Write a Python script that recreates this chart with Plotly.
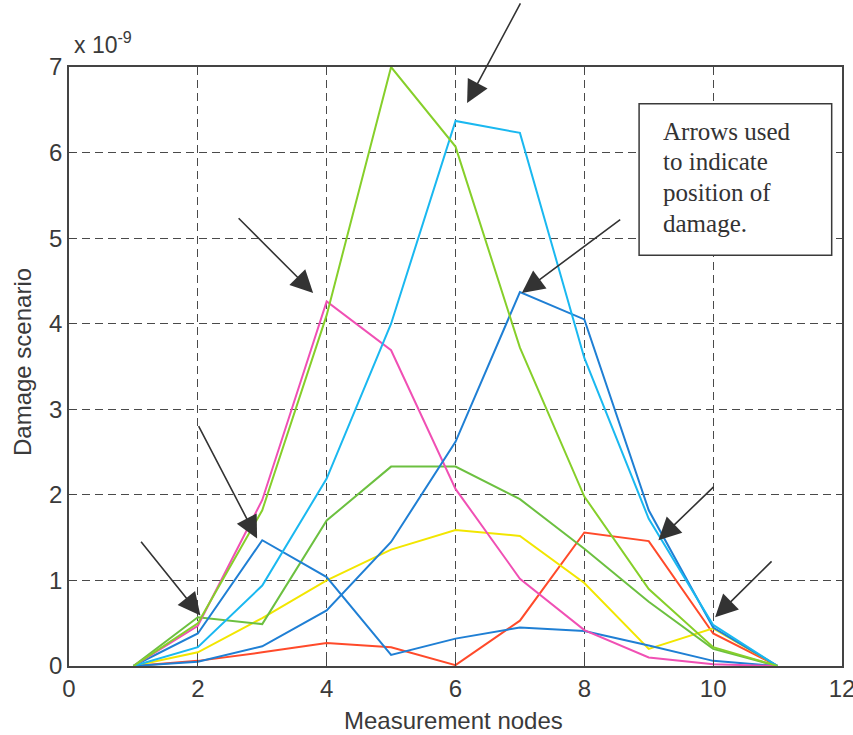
import plotly.graph_objects as go

# Measurement nodes along the structure
nodes = [1, 2, 3, 4, 5, 6, 7, 8, 9, 10, 11]

# Damage-scenario curves (units of 1e-9)
green_a = [0, 0.50, 1.82, 4.10, 7.00, 6.07, 3.72, 1.98, 0.90, 0.22, 0]
cyan = [0, 0.22, 0.94, 2.19, 4.00, 6.37, 6.23, 3.60, 1.72, 0.48, 0]
blue_a = [0, 0.05, 0.23, 0.65, 1.45, 2.62, 4.37, 4.05, 1.82, 0.45, 0]
magenta = [0, 0.47, 1.94, 4.26, 3.69, 2.07, 1.02, 0.42, 0.10, 0.02, 0]
blue_b = [0, 0.38, 1.47, 1.04, 0.13, 0.32, 0.45, 0.41, 0.24, 0.06, 0]
green_b = [0, 0.57, 0.49, 1.70, 2.33, 2.33, 1.95, 1.37, 0.75, 0.20, 0]
yellow = [0, 0.16, 0.56, 1.00, 1.36, 1.59, 1.52, 0.97, 0.20, 0.44, 0]
red = [0, 0.06, 0.16, 0.27, 0.22, 0.01, 0.53, 1.56, 1.46, 0.38, 0]

series = [
    (red, "#ff4a2a"),
    (yellow, "#f2e600"),
    (green_b, "#6cc040"),
    (blue_b, "#1f7fd4"),
    (magenta, "#f050b4"),
    (blue_a, "#1f7fd4"),
    (cyan, "#1ab8f0"),
    (green_a, "#86cf2a"),
]

# Arrows marking damage positions: (head x, head y, tail x, tail y)
arrow_heads_x = [6.18, 3.79, 2.92, 2.04, 7.03, 9.15, 10.03]
arrow_heads_y = [6.58, 4.36, 1.49, 0.59, 4.36, 1.47, 0.57]
arrow_tails_x = [7.02, 2.61, 2.00, 1.10, 8.58, 10.03, 10.93]
arrow_tails_y = [7.76, 5.25, 2.82, 1.47, 5.23, 2.11, 1.24]

note_lines = ["Arrows used", "to indicate", "position of", "damage."]

sans = "Liberation Sans, Arial, sans-serif"
ink = "#3a3a3a"

fig = go.Figure()
for ys, col in series:
    fig.add_trace(go.Scatter(x=nodes, y=ys, mode="lines",
                             line=dict(color=col, width=2), showlegend=False))

for hx, hy, tx, ty in zip(arrow_heads_x, arrow_heads_y, arrow_tails_x, arrow_tails_y):
    fig.add_annotation(x=hx, y=hy, ax=tx, ay=ty, xref="x", yref="y",
                       axref="x", ayref="y", text="", showarrow=True,
                       arrowhead=2, arrowsize=2.8, arrowwidth=1.6,
                       arrowcolor="#333333", standoff=0)

# Explanatory note box
fig.add_shape(type="rect", xref="x", yref="y", x0=8.85, x1=11.84, y0=4.80, y1=6.57,
              fillcolor="white", line=dict(color="#3a3a3a", width=1.5), layer="above")
for i, line in enumerate(note_lines):
    fig.add_annotation(x=9.19, y=6.25 - i * 0.36, xref="x", yref="y",
                       text=line, showarrow=False, xanchor="left", yanchor="middle",
                       font=dict(family="Liberation Serif, Times New Roman, serif",
                                 size=25, color="#333333"))

# Exponent label above the y axis
fig.add_annotation(x=0.004, y=1.0, xref="paper", yref="paper", yanchor="bottom",
                   xanchor="left", yshift=7, showarrow=False,
                   text="x 10<sup>-9</sup>", font=dict(family=sans, size=23, color=ink))

# Axis titles
fig.add_annotation(x=0.498, y=-0.0918, xref="paper", yref="paper", showarrow=False,
                   xanchor="center", yanchor="middle", text="Measurement nodes",
                   font=dict(family=sans, size=24, color=ink))
fig.add_annotation(x=-0.0608, y=0.5075, xref="paper", yref="paper", showarrow=False,
                   xanchor="center", yanchor="middle", textangle=-90,
                   text="Damage scenario", font=dict(family=sans, size=24, color=ink))

axis_common = dict(
    showgrid=True, gridcolor="#4a4a4a", gridwidth=1.4, griddash="8px,5px",
    showline=True, linecolor="#444444", linewidth=1.5, mirror="ticks",
    ticks="inside", ticklen=6, tickcolor="#444444", zeroline=False,
    automargin=False, ticklabeloverflow="allow",
    tickfont=dict(family=sans, size=24, color=ink),
)

fig.update_layout(
    width=853, height=735,
    margin=dict(l=69, r=11, t=67, b=69),
    paper_bgcolor="white", plot_bgcolor="white",
    xaxis=dict(range=[0, 12], tick0=0, dtick=2, **axis_common),
    yaxis=dict(range=[0, 7], tick0=0, dtick=1, **axis_common),
)

fig.write_html("out.html")
